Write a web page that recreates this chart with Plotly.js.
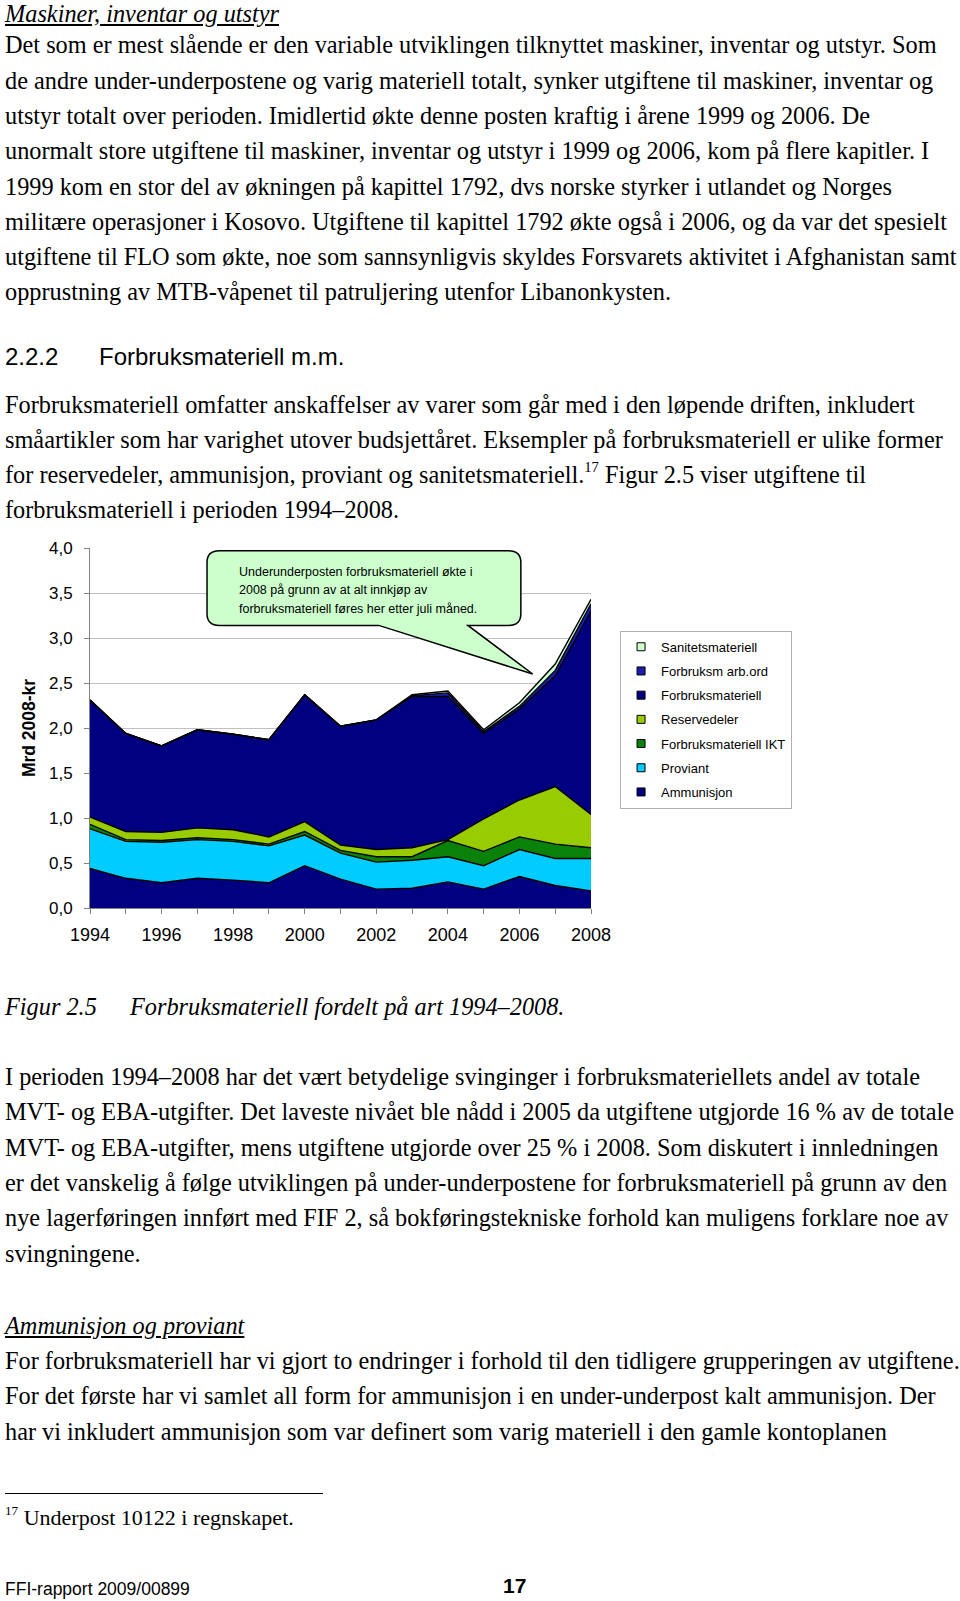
<!DOCTYPE html>
<html>
<head>
<meta charset="utf-8">
<script src="https://cdn.plot.ly/plotly-3.0.1.min.js"></script>
<style>
  html, body { margin:0; padding:0; background:#fff; }
  #page { position:relative; width:960px; height:1601px; overflow:hidden; background:#fff; }
  .serif { position:absolute; left:5px; font-family:"Liberation Serif","Times New Roman",serif; font-size:24.3px; color:#000; white-space:nowrap; }
  .sans { position:absolute; font-family:"Liberation Sans",Arial,sans-serif; color:#000; white-space:nowrap; }
  .it { font-style:italic; }
  .ul { text-decoration:underline; }
  sup { font-size:60%; line-height:0; position:relative; top:-0.15em; vertical-align:super; }
  #chart { position:absolute; left:0; top:520px; width:960px; height:440px; }
</style>
</head>
<body>
<div id="page">
  <div class="serif it ul" style="top:1px;line-height:26px;">Maskiner, inventar og utstyr</div>
  <div class="serif" style="top:27.4px;line-height:35.3px;">Det som er mest slående er den variable utviklingen tilknyttet maskiner, inventar og utstyr. Som<br>de andre under-underpostene og varig materiell totalt, synker utgiftene til maskiner, inventar og<br>utstyr totalt over perioden. Imidlertid økte denne posten kraftig i årene 1999 og 2006. De<br>unormalt store utgiftene til maskiner, inventar og utstyr i 1999 og 2006, kom på flere kapitler. I<br>1999 kom en stor del av økningen på kapittel 1792, dvs norske styrker i utlandet og Norges<br>militære operasjoner i Kosovo. Utgiftene til kapittel 1792 økte også i 2006, og da var det spesielt<br>utgiftene til FLO som økte, noe som sannsynligvis skyldes Forsvarets aktivitet i Afghanistan samt<br>opprustning av MTB-våpenet til patruljering utenfor Libanonkysten.</div>

  <div class="sans" style="left:5px;top:339px;line-height:35px;font-size:24px;">2.2.2</div>
  <div class="sans" style="left:99px;top:339px;line-height:35px;font-size:24px;">Forbruksmateriell m.m.</div>

  <div class="serif" style="top:387px;line-height:35.1px;">Forbruksmateriell omfatter anskaffelser av varer som går med i den løpende driften, inkludert<br>småartikler som har varighet utover budsjettåret. Eksempler på forbruksmateriell er ulike former<br>for reservedeler, ammunisjon, proviant og sanitetsmateriell.<sup>17</sup> Figur 2.5 viser utgiftene til<br>forbruksmateriell i perioden 1994–2008.</div>

  <div id="chart"></div>

  <div class="serif it" style="top:988.5px;line-height:35px;">Figur 2.5</div>
  <div class="serif it" style="left:130px;top:988.5px;line-height:35px;">Forbruksmateriell fordelt på art 1994–2008.</div>

  <div class="serif" style="top:1059px;line-height:35.34px;">I perioden 1994–2008 har det vært betydelige svinginger i forbruksmateriellets andel av totale<br>MVT- og EBA-utgifter. Det laveste nivået ble nådd i 2005 da utgiftene utgjorde 16 % av de totale<br>MVT- og EBA-utgifter, mens utgiftene utgjorde over 25 % i 2008. Som diskutert i innledningen<br>er det vanskelig å følge utviklingen på under-underpostene for forbruksmateriell på grunn av den<br>nye lagerføringen innført med FIF 2, så bokføringstekniske forhold kan muligens forklare noe av<br>svingningene.</div>

  <div class="serif it ul" style="top:1308px;line-height:35px;">Ammunisjon og proviant</div>
  <div class="serif" style="top:1343px;line-height:35.25px;">For forbruksmateriell har vi gjort to endringer i forhold til den tidligere grupperingen av utgiftene.<br>For det første har vi samlet all form for ammunisjon i en under-underpost kalt ammunisjon. Der<br>har vi inkludert ammunisjon som var definert som varig materiell i den gamle kontoplanen</div>

  <div style="position:absolute;left:5px;top:1493px;width:318px;height:1px;background:#000;"></div>
  <div class="serif" style="top:1500px;line-height:35px;font-size:22px;"><sup>17</sup> Underpost 10122 i regnskapet.</div>

  <div class="sans" style="left:5px;top:1579px;line-height:20px;font-size:17.5px;">FFI-rapport 2009/00899</div>
  <div class="sans" style="left:503px;top:1574px;line-height:24px;font-size:21px;font-weight:bold;">17</div>
</div>

<script>
// ---- data (Mrd 2008-kr), stacked bottom to top ----
const years = [1994,1995,1996,1997,1998,1999,2000,2001,2002,2003,2004,2005,2006,2007,2008];
const ammunisjon        = [0.44,0.33,0.28,0.33,0.31,0.28,0.47,0.32,0.21,0.22,0.29,0.21,0.35,0.25,0.19];
const proviant          = [0.44,0.41,0.45,0.43,0.43,0.41,0.34,0.29,0.30,0.31,0.28,0.26,0.30,0.30,0.36];
const forbruksmatIKT    = [0.05,0.02,0.02,0.02,0.02,0.02,0.04,0.03,0.06,0.04,0.18,0.16,0.14,0.16,0.12];
const reservedeler      = [0.08,0.09,0.09,0.11,0.11,0.08,0.11,0.06,0.08,0.10,0.01,0.36,0.41,0.64,0.37];
const forbruksmateriell = [1.30,1.09,0.96,1.09,1.06,1.08,1.41,1.32,1.44,1.68,1.59,0.95,1.01,1.23,2.26];
const forbruksmArbOrd   = [0,0,0,0,0,0,0,0,0,0.01,0.04,0.02,0.03,0.06,0.08];
const sanitetsmateriell = [0,0,0,0,0,0,0,0,0,0.01,0.02,0.02,0.04,0.07,0.05];

const seriesNames = ["Ammunisjon","Proviant","Forbruksmateriell IKT","Reservedeler","Forbruksmateriell","Forbruksm arb.ord","Sanitetsmateriell"];
const seriesValues = [ammunisjon, proviant, forbruksmatIKT, reservedeler, forbruksmateriell, forbruksmArbOrd, sanitetsmateriell];
const seriesColors = ["#000080","#00ccff","#0a820a","#99cc00","#000080","#1c1cb0","#ccffcc"];

const yTickVals = [0,0.5,1,1.5,2,2.5,3,3.5,4];
const xTickVals = [1994,1996,1998,2000,2002,2004,2006,2008];
const xTickText = ["1994","1996","1998","2000","2002","2004","2006","2008"];
const calloutLines = ["Underunderposten forbruksmateriell økte i",
                      "2008 på grunn av at alt innkjøp av",
                      "forbruksmateriell føres her etter juli måned."];

const traces = [];
seriesNames.forEach((name, i) => {
  traces.push({
    type: "scatter", mode: "lines", x: years, y: seriesValues[i],
    stackgroup: "one", name: name, showlegend: false, hoverinfo: "skip",
    line: {color: "#000000", width: 1.4}, fillcolor: seriesColors[i]
  });
});
// legend entries (top of stack first)
for (let i = seriesNames.length - 1; i >= 0; i--) {
  traces.push({
    type: "scatter", mode: "markers", x: [null], y: [null], name: seriesNames[i],
    legendgroup: "g" + i, showlegend: true, hoverinfo: "skip",
    marker: {symbol: "square", size: 8, color: seriesColors[i], line: {color: "#000", width: 1}}
  });
}

// callout bubble (in data coordinates)
const bx0 = 1997.27, bx1 = 2006.04, by0 = 3.14, by1 = 3.97, rx = 0.35, ry = 0.13;
const tb1 = 2002.07, tb2 = 2004.56, tipX = 2006.37, tipY = 2.60;
const bubblePath =
  `M${bx0+rx},${by1} L${bx1-rx},${by1} Q${bx1},${by1} ${bx1},${by1-ry} ` +
  `L${bx1},${by0+ry} Q${bx1},${by0} ${bx1-rx},${by0} L${tb2},${by0} L${tipX},${tipY} L${tb1},${by0} ` +
  `L${bx0+rx},${by0} Q${bx0},${by0} ${bx0},${by0+ry} L${bx0},${by1-ry} Q${bx0},${by1} ${bx0+rx},${by1} Z`;

const calloutY = [3.733, 3.533, 3.322];
const annotations = calloutLines.map((t, i) => ({
  x: 1998.1, y: calloutY[i], xref: "x", yref: "y", xanchor: "left", yanchor: "middle",
  text: t, showarrow: false, font: {family: "Liberation Sans, Arial, sans-serif", size: 12.5, color: "#000"}
}));

const layout = {
  width: 960, height: 440,
  margin: {l: 90, r: 369, t: 28, b: 52, pad: 0},
  paper_bgcolor: "rgba(0,0,0,0)", plot_bgcolor: "#ffffff",
  separators: ", ",
  font: {family: "Liberation Sans, Arial, sans-serif", color: "#000"},
  showlegend: true,
  xaxis: {
    range: [1994, 2008], tickmode: "array", tickvals: xTickVals, ticktext: xTickText,
    showgrid: false, zeroline: false, showline: true, linecolor: "#808080", linewidth: 1,
    ticks: "outside", ticklen: 5, tickcolor: "#808080", ticklabelstandoff: 5,
    minor: {dtick: 1, tick0: 1994, ticks: "outside", ticklen: 5, tickcolor: "#808080", showgrid: false},
    tickfont: {size: 18, color: "#000"}, fixedrange: true
  },
  yaxis: {
    range: [0, 4], tickmode: "array", tickvals: yTickVals, tickformat: ".1f",
    showgrid: true, gridcolor: "#c0c0c0", gridwidth: 1, zeroline: false,
    showline: true, linecolor: "#808080", linewidth: 1,
    ticks: "outside", ticklen: 5, tickcolor: "#808080", ticklabelstandoff: 8,
    tickfont: {size: 17, color: "#000"},
    title: {text: "Mrd 2008-kr", font: {size: 17.5, color: "#000", weight: "bold"}, standoff: 8},
    fixedrange: true
  },
  legend: {
    x: 1.058, xanchor: "left", y: 0.770, yanchor: "top",
    bgcolor: "#ffffff", bordercolor: "#b0b0b0", borderwidth: 1,
    font: {size: 13, color: "#000"}, tracegroupgap: 4.3, itemwidth: 30,
    traceorder: "grouped"
  },
  shapes: [{
    type: "path", xref: "x", yref: "y", path: bubblePath, layer: "above",
    fillcolor: "#ccffcc", line: {color: "#000", width: 1.5}
  }],
  annotations: annotations
};

Plotly.newPlot("chart", traces, layout, {displayModeBar: false, staticPlot: true});
</script>
</body>
</html>
